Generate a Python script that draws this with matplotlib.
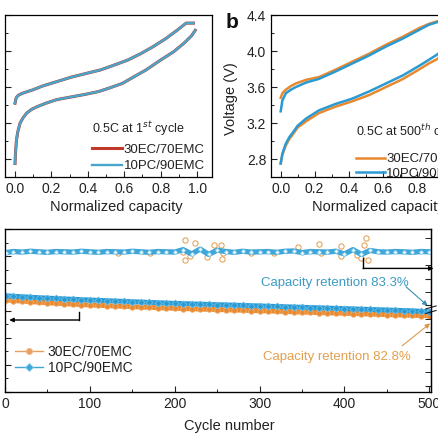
import matplotlib
matplotlib.use('Agg')
import matplotlib.pyplot as plt
from matplotlib.lines import Line2D
from matplotlib.ticker import MultipleLocator

plt.rcParams['font.family'] = ['Liberation Sans', 'DejaVu Sans']
plt.rcParams['text.color'] = '#222222'
plt.rcParams['axes.labelcolor'] = '#222222'
plt.rcParams['xtick.color'] = '#222222'
plt.rcParams['ytick.color'] = '#222222'

# ---- panel a: first cycle ----
a_chg_x = [0.0, 0.005, 0.01, 0.02, 0.04, 0.07, 0.10, 0.15, 0.23, 0.31, 0.39, 0.47,
           0.54, 0.62, 0.69, 0.76, 0.83, 0.89, 0.94, 0.96, 0.98]
a_chg_ec = [3.42, 3.47, 3.49, 3.51, 3.53, 3.55, 3.57, 3.61, 3.66, 3.71, 3.75, 3.79,
            3.84, 3.90, 3.97, 4.05, 4.14, 4.23, 4.31, 4.31, 4.31]
a_chg_pc = [3.42, 3.47, 3.49, 3.51, 3.53, 3.55, 3.57, 3.61, 3.66, 3.71, 3.75, 3.79,
            3.84, 3.90, 3.97, 4.05, 4.14, 4.23, 4.31, 4.31, 4.31]
a_dis_x = [0.0, 0.003, 0.008, 0.015, 0.028, 0.045, 0.064, 0.09, 0.12, 0.17, 0.23, 0.31,
           0.39, 0.46, 0.52, 0.59, 0.65, 0.72, 0.80, 0.87, 0.93, 0.97, 0.99]
a_dis_ec = [2.75, 2.88, 3.01, 3.10, 3.20, 3.26, 3.31, 3.35, 3.38, 3.42, 3.46, 3.49,
            3.52, 3.55, 3.59, 3.64, 3.71, 3.79, 3.90, 3.99, 4.09, 4.17, 4.23]
a_dis_pc = [2.75, 2.88, 3.01, 3.10, 3.20, 3.26, 3.31, 3.35, 3.38, 3.42, 3.46, 3.49,
            3.52, 3.55, 3.59, 3.64, 3.71, 3.79, 3.90, 3.99, 4.09, 4.17, 4.23]

# ---- panel b: 500th cycle ----
b_chg_x = [0.0, 0.01, 0.03, 0.06, 0.09, 0.15, 0.225, 0.32, 0.42, 0.52, 0.62, 0.72,
           0.81, 0.87, 0.92, 0.96, 1.0]
b_chg_ec = [3.48, 3.53, 3.57, 3.61, 3.64, 3.68, 3.71, 3.79, 3.88, 3.97, 4.07, 4.16,
            4.25, 4.30, 4.33, 4.33, 4.33]
b_chg_pc = [3.33, 3.45, 3.53, 3.57, 3.60, 3.65, 3.69, 3.77, 3.86, 3.95, 4.05, 4.14,
            4.23, 4.29, 4.32, 4.33, 4.33]
b_dis_x = [0.0, 0.01, 0.03, 0.05, 0.07, 0.10, 0.15, 0.225, 0.32, 0.42, 0.52, 0.62,
           0.72, 0.81, 0.87, 0.92, 0.96, 1.0]
b_dis_ec = [2.75, 2.85, 2.95, 3.02, 3.07, 3.15, 3.22, 3.31, 3.38, 3.44, 3.51, 3.60,
            3.69, 3.79, 3.86, 3.91, 3.97, 4.04]
b_dis_pc = [2.75, 2.86, 2.97, 3.04, 3.09, 3.17, 3.25, 3.34, 3.41, 3.47, 3.55, 3.64,
            3.73, 3.83, 3.90, 3.96, 4.02, 4.09]

# ---- panel c: cycling ----
cycles = [1, 10, 20, 30, 40, 50, 60, 70, 80, 90, 100, 110, 120, 130, 140, 150, 160,
          170, 180, 190, 200, 210, 220, 230, 240, 250, 260, 270, 280, 290, 300, 310,
          320, 330, 340, 350, 360, 370, 380, 390, 400, 410, 420, 430, 440, 450, 460,
          470, 480, 490, 500]
cap_ec = [1.355, 1.346, 1.338, 1.330, 1.322, 1.314, 1.307, 1.300, 1.293, 1.287, 1.281,
          1.276, 1.271, 1.266, 1.261, 1.256, 1.251, 1.246, 1.241, 1.237, 1.232,
          1.228, 1.224, 1.221, 1.217, 1.214, 1.210, 1.207, 1.204, 1.200, 1.197,
          1.193, 1.189, 1.185, 1.181, 1.177, 1.173, 1.169, 1.165, 1.162, 1.159,
          1.155, 1.151, 1.147, 1.143, 1.139, 1.136, 1.132, 1.129, 1.125, 1.122]
cap_pc = [1.418, 1.410, 1.403, 1.396, 1.389, 1.383, 1.377, 1.371, 1.366, 1.360, 1.355,
          1.350, 1.345, 1.340, 1.335, 1.330, 1.325, 1.320, 1.315, 1.310, 1.306,
          1.302, 1.298, 1.294, 1.290, 1.286, 1.283, 1.279, 1.275, 1.272, 1.268,
          1.264, 1.260, 1.256, 1.252, 1.248, 1.244, 1.240, 1.236, 1.232, 1.228,
          1.224, 1.220, 1.216, 1.212, 1.208, 1.204, 1.200, 1.196, 1.189, 1.182]
ce_pc = [99.97, 100.01, 99.99, 100.02, 100.00, 99.98, 100.01, 100.00, 99.99, 100.02, 100.00,
         99.98, 100.01, 100.00, 99.99, 100.02, 100.00, 99.98, 100.01, 100.00, 99.99,
         100.08, 99.92, 100.10, 99.90, 100.06, 100.01, 99.98, 100.02, 99.99, 100.00,
         100.01, 99.98, 100.02, 100.03, 99.97, 100.01, 100.00, 99.99, 100.02, 99.92,
         100.08, 99.90, 100.05, 100.00, 99.99, 100.01, 100.00, 99.98, 100.01, 100.00]
# orange CE points that stick out of the blue band
ce_ec_cyc = [133, 171, 210, 212, 212, 218, 224, 238, 246, 254, 256, 257, 290, 317,
             345, 370, 372, 396, 396, 415, 419, 423, 425, 428]
ce_ec = [99.94, 99.94, 100.00, 100.44, 99.69, 99.86, 100.31, 99.82, 100.25, 100.25,
         99.72, 99.94, 99.96, 99.97, 100.19, 100.29, 99.94, 100.22, 99.86, 99.88,
         99.75, 100.25, 100.50, 99.69]

labels = ['30EC/70EMC', '10PC/90EMC']
red = '#C0392B'
teal = '#48A6CA'
orange = '#E8892F'
blue = '#2A9AD3'

fig = plt.figure(figsize=(4.39, 4.40), dpi=100)
W, H = 439.0, 440.0


def style(ax):
    ax.tick_params(which='both', direction='in', top=False, right=False, labelsize=10)
    ax.tick_params(which='major', length=4, width=0.8)
    ax.tick_params(which='minor', length=2.5, width=0.7)
    for s in ax.spines.values():
        s.set_linewidth(0.9)


# panel a (its y labels sit outside the cropped picture)
ax_a = fig.add_axes([5 / W, 1 - 177 / H, 207 / W, 162 / H])
ax_a.plot(a_chg_x, a_chg_ec, color=red, lw=2.2, label=labels[0])
ax_a.plot(a_dis_x, a_dis_ec, color=red, lw=2.2)
ax_a.plot(a_chg_x, a_chg_pc, color=teal, lw=1.7, label=labels[1])
ax_a.plot(a_dis_x, a_dis_pc, color=teal, lw=1.7)
ax_a.set_xlim(-0.055, 1.082)
ax_a.set_ylim(2.6, 4.4)
ax_a.xaxis.set_major_locator(MultipleLocator(0.2))
ax_a.xaxis.set_minor_locator(MultipleLocator(0.1))
ax_a.yaxis.set_major_locator(MultipleLocator(0.4))
ax_a.yaxis.set_minor_locator(MultipleLocator(0.2))
style(ax_a)
ax_a.tick_params(labelleft=False)
ax_a.set_xlabel('Normalized capacity', fontsize=10.5)
ax_a.xaxis.set_label_coords(0.536, -0.142)
ax_a.text(0.42, 0.30, '0.5C at 1$^{st}$ cycle', transform=ax_a.transAxes,
          fontsize=9, va='center', ha='left')
ax_a.legend(loc='center left', bbox_to_anchor=(0.42, 0.117), frameon=False,
            fontsize=9.5, handlelength=2.3, handletextpad=0.1, borderpad=0,
            borderaxespad=0, labelspacing=0.3)

# panel b
ax_b = fig.add_axes([271 / W, 1 - 177 / H, 193.6 / W, 162 / H])
ax_b.plot(b_chg_x, b_chg_ec, color=orange, lw=1.8, label=labels[0])
ax_b.plot(b_dis_x, b_dis_ec, color=orange, lw=1.8)
ax_b.plot(b_chg_x, b_chg_pc, color=blue, lw=1.8, label=labels[1])
ax_b.plot(b_dis_x, b_dis_pc, color=blue, lw=1.8)
ax_b.set_xlim(-0.057, 1.082)
ax_b.set_ylim(2.6, 4.4)
ax_b.xaxis.set_major_locator(MultipleLocator(0.2))
ax_b.xaxis.set_minor_locator(MultipleLocator(0.1))
ax_b.yaxis.set_major_locator(MultipleLocator(0.4))
ax_b.yaxis.set_minor_locator(MultipleLocator(0.2))
style(ax_b)
ax_b.set_xlabel('Normalized capacity', fontsize=10.5)
ax_b.xaxis.set_label_coords(0.553, -0.142)
ax_b.set_ylabel('Voltage (V)', fontsize=10.5)
ax_b.yaxis.set_label_coords(-0.17, 0.485)
ax_b.text(0.439, 0.28, '0.5C at 500$^{th}$ cycle', transform=ax_b.transAxes,
          fontsize=9, va='center', ha='left')
ax_b.legend(loc='center left', bbox_to_anchor=(0.439, 0.065), frameon=False,
            fontsize=9.5, handlelength=2.2, handletextpad=0.1, borderpad=0,
            borderaxespad=0, labelspacing=0.2)
fig.text(226 / W, 1 - 13 / H, 'b', fontsize=15, fontweight='bold', va='top', ha='left',
         color='#111111')

# panel c
ax_c = fig.add_axes([5 / W, 1 - 392 / H, 426 / W, 163 / H])
ax_r = ax_c.twinx()
ax_c.plot(cycles, cap_ec, color=orange, lw=3.5, marker='o', ms=4,
          mfc=orange, mec='#F2B070', mew=0.6)
ax_c.plot(cycles, cap_pc, color=blue, lw=3.5, marker='D', ms=3.5,
          mfc=blue, mec='#6CC0EA', mew=0.6)
ax_c.set_xlim(0, 502)
ax_c.set_ylim(0, 2.4)
ax_c.xaxis.set_major_locator(MultipleLocator(100))
ax_c.xaxis.set_minor_locator(MultipleLocator(50))
ax_c.yaxis.set_major_locator(MultipleLocator(0.4))
ax_c.yaxis.set_minor_locator(MultipleLocator(0.2))
style(ax_c)
ax_c.tick_params(labelleft=False)
ax_c.set_xlabel('Cycle number', fontsize=10.5)
ax_c.xaxis.set_label_coords(0.526, -0.167)

ax_r.plot(ce_ec_cyc, ce_ec, ls='none', marker='o', ms=3.8, mfc='white',
          mec='#E39A4A', mew=0.7)
ax_r.plot(cycles, ce_pc, color='#3FA6D8', lw=3.8, marker='D', ms=2.4,
          mfc='#E6F6FC', mec='#7CC6E8', mew=0.4)
ax_r.set_ylim(94.77, 100.85)
ax_r.yaxis.set_major_locator(MultipleLocator(1.0))
ax_r.yaxis.set_minor_locator(MultipleLocator(0.5))
ax_r.tick_params(which='both', direction='in', labelright=False)
ax_r.tick_params(which='major', length=4, width=0.8)
ax_r.tick_params(which='minor', length=4, width=0.7)
ax_r.spines['right'].set_linewidth(0.9)

# axis break on the right spine
for dy in (0.0, 0.028):
    ax_r.plot([0.988, 1.012], [0.482 + dy, 0.500 + dy], transform=ax_r.transAxes,
              color='#222222', lw=0.8, clip_on=False)

# brackets pointing to the axes
ax_c.plot([87.6, 87.6], [1.182, 1.06], color='black', lw=1.0)
ax_c.annotate('', xy=(5, 1.06), xytext=(87.6, 1.06),
              arrowprops=dict(arrowstyle='-|>', color='black', lw=1.0, mutation_scale=6,
                              shrinkA=0, shrinkB=0))
ax_r.plot([422, 422], [99.76, 99.38], color='black', lw=1.0)
ax_r.annotate('', xy=(505, 99.38), xytext=(422, 99.38), annotation_clip=False,
              arrowprops=dict(arrowstyle='-|>', color='black', lw=1.0, mutation_scale=6,
                              shrinkA=0, shrinkB=0))

ax_c.text(389, 1.61, 'Capacity retention 83.3%', ha='center', va='center',
          fontsize=9.5, color='#3C9BC2')
ax_c.annotate('', xy=(498, 1.27), xytext=(472.5, 1.55),
              arrowprops=dict(arrowstyle='-|>', color='#3C8FB5', lw=0.8,
                              mutation_scale=7, shrinkA=0, shrinkB=0))
ax_c.text(391.5, 0.51, 'Capacity retention 82.8%', ha='center', va='center',
          fontsize=9.5, color='#E3A04E')
ax_c.annotate('', xy=(501, 1.01), xytext=(468, 0.68),
              arrowprops=dict(arrowstyle='-|>', color='#D89A50', lw=0.8,
                              mutation_scale=7, shrinkA=0, shrinkB=0))

h_ec = Line2D([], [], color='#E8A060', lw=1.0, marker='o', ms=4.5,
              mfc='#E8A060', mec='#F0C090', mew=0.6)
h_pc = Line2D([], [], color='#3FA6D8', lw=1.0, marker='D', ms=3.8,
              mfc='#3FA6D8', mec='#80CCEE', mew=0.6)
ax_c.legend(handles=[h_ec, h_pc], labels=labels, loc='center left',
            bbox_to_anchor=(0.0235, 0.195), frameon=False, fontsize=10,
            handlelength=2.0, handletextpad=0.35, borderpad=0, borderaxespad=0,
            labelspacing=0.15)

fig.savefig('out.png', dpi=100)
